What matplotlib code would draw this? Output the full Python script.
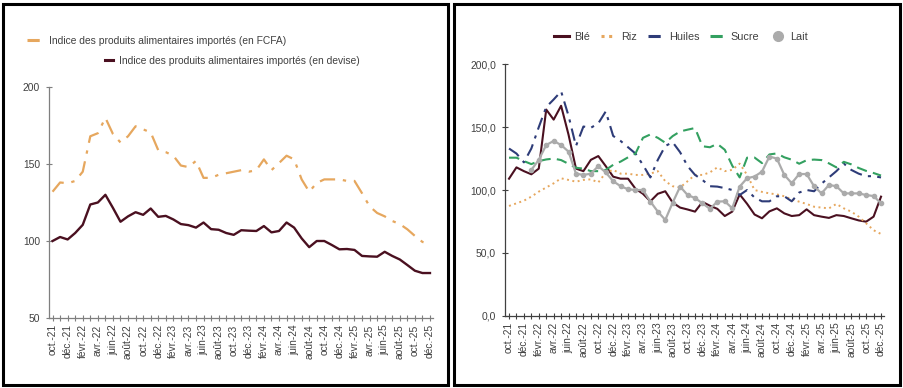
import matplotlib
matplotlib.use('Agg')
import matplotlib.pyplot as plt
from matplotlib.patches import Rectangle
from matplotlib.lines import Line2D
import numpy as np

plt.rcParams['font.family'] = ['Liberation Sans', 'DejaVu Sans']

# months oct-21 .. dec-25 (51 points), labels every 2 months
labels = ['oct.-21', 'déc.-21', 'févr.-22', 'avr.-22', 'juin-22', 'août-22', 'oct.-22', 'déc.-22',
          'févr.-23', 'avr.-23', 'juin-23', 'août-23', 'oct.-23', 'déc.-23', 'févr.-24', 'avr.-24',
          'juin-24', 'août-24', 'oct.-24', 'déc.-24', 'févr.-25', 'avr.-25', 'juin-25', 'août-25',
          'oct.-25', 'déc.-25']

# left chart
fcfa = [132, 138, 137.5, 139, 145, 168, 170, 180, 169.5, 164, 168, 174.5, 172.5, 170.5, 159, 157.7,
        155.4, 149, 148, 152, 141, 141, 143, 144, 145, 146, 145, 146, 153, 146, 150.6, 155.4, 153,
        140, 132, 137.7, 140, 140, 140, 139, 139, 131, 122.5, 118.2, 116, 113, 111, 107.6, 103.3,
        99.4, 98]
devise = [100, 102.6, 101, 105.2, 110.5, 123.7, 125, 130, 121.5, 112.5, 116, 118.7, 117, 121.1,
          115.7, 116.3, 114, 111, 110.3, 108.7, 112, 107.7, 107.3, 105.2, 104, 107, 106.7, 106.5,
          109.7, 105.6, 106.5, 112, 108.7, 101.7, 96, 100, 100, 97.4, 94.6, 94.8, 94.2, 90.3, 90,
          89.8, 93, 90.3, 88, 84.4, 80.7, 79.2, 79.2]

# right chart
ble = [109, 118, 115, 112.5, 117, 164, 156, 167, 144, 117, 115, 124, 127, 119, 110.6, 109, 109,
       101, 97, 91, 97, 99, 90, 86, 84.5, 82.8, 90.5, 87.5, 85, 79.3, 82.8, 96.5, 89, 80.5, 77.5,
       83, 85.4, 81.4, 79.3, 80, 84.6, 80, 78.8, 77.8, 80, 79.3, 77.5, 75.8, 74.8, 78.8, 94.7]
riz = [87.3, 89.4, 91.5, 94.7, 98.7, 102, 105.3, 109.3, 108, 106.6, 108, 108.5, 106, 113.8, 116,
       113, 113, 112, 112, 113, 115, 107, 103, 102, 107, 112, 112, 114, 118, 115, 116, 121, 112,
       100, 98.5, 97.3, 96.5, 95, 92.6, 90.7, 88.9, 86.7, 86, 85.4, 88.9, 85.4, 82.8, 78.8, 73.5,
       68, 65]
huiles = [133, 129, 122, 133, 150, 166, 172, 178.5, 159, 135, 150.5, 149.5, 153, 162.5, 143, 139,
          134, 129, 120, 110, 124, 135, 138, 130, 119, 112, 108, 103, 102.7, 101.5, 100, 96, 100,
          94, 91, 91, 95, 95, 91, 98, 100, 99, 105, 110, 115, 121, 116, 113, 111, 111, 110]
sucre = [125.7, 125.7, 123, 120.6, 123, 124.3, 125, 123.8, 120.8, 117.7, 117, 115, 115, 116,
         120, 122.6, 126, 129, 141.5, 144.2, 141.5, 137.6, 142.9, 146.6, 148, 149.3, 134.8, 134,
         136.7, 132, 119.4, 110, 125.7, 125.8, 121.4, 128.3, 129.1, 126, 124.1, 120.9, 123.7,
         124.2, 123.8, 121.2, 118, 122.4, 120.4, 117.5, 115.2, 113.5, 111.5]
lait = [np.nan, np.nan, np.nan, 116, 124, 135.8, 139, 135.8, 130.5, 113, 112, 113, 119, 114,
        107, 103, 100.6, 100, 100, 90.8, 82.8, 76.2, 90, 102.7, 96, 93.6, 89.4, 85, 90.8, 91,
        85.5, 102.7, 109.4, 110.7, 114.6, 126.6, 125, 112, 105.4, 112.7, 112.7, 103, 97.3, 104,
        103, 97.3, 97.3, 97.3, 96, 95.2, 89.4]

x = np.arange(len(devise))
W, H = 904, 388
fs = 7.4
fig = plt.figure(figsize=(W / 100, H / 100), dpi=100)

# panel borders
fig.add_artist(Rectangle((3.5 / W, 3.5 / H), 445 / W, 381 / H, transform=fig.transFigure,
                         fill=False, ec='black', lw=2.2))
fig.add_artist(Rectangle((453.5 / W, 3.5 / H), 447 / W, 381 / H, transform=fig.transFigure,
                         fill=False, ec='black', lw=2.2))

# ---------- left panel ----------
ax1 = fig.add_axes([49 / W, (H - 318) / H, 384 / W, 231 / H])
ax1.plot(x, fcfa, color='#E6A75E', lw=1.6, linestyle=(0, (7, 3.5, 1.5, 3.5)))
ax1.plot(x, devise, color='#4A1020', lw=1.7)
ax1.set_xlim(-0.47, 50.4)
ax1.set_ylim(50, 200)
ax1.set_yticks([50, 100, 150, 200])
ax1.set_xticks(x)
ax1.set_xticklabels([labels[i // 2] if i % 2 == 0 else '' for i in x], rotation=90)
ax1.tick_params(axis='x', direction='inout', length=5, width=0.8, color='#7F7F7F',
                labelsize=fs, pad=2, labelcolor='#404040')
ax1.tick_params(axis='y', direction='inout', length=5, width=0.8, color='#7F7F7F',
                labelsize=fs, pad=4, labelcolor='#404040')
for s in ['top', 'right']:
    ax1.spines[s].set_visible(False)
for s in ['left', 'bottom']:
    ax1.spines[s].set_color('#7F7F7F')
    ax1.spines[s].set_linewidth(0.9)

h1 = Line2D([], [], color='#E6A75E', lw=2.2, linestyle=(0, (4, 2, 1.5, 2)))
h2 = Line2D([], [], color='#4A1020', lw=2.2)
fig.legend([h1], ['Indice des produits alimentaires importés (en FCFA)'], loc='center left',
           bbox_to_anchor=(27 / W, 1 - 40.7 / H), frameon=False, fontsize=fs,
           handlelength=1.6, handletextpad=0.5, borderpad=0, borderaxespad=0,
           labelcolor='#404040')
fig.legend([h2], ['Indice des produits alimentaires importés (en devise)'], loc='center left',
           bbox_to_anchor=(105 / W, 1 - 61 / H), frameon=False, fontsize=fs,
           handlelength=0.8, handletextpad=0.6, borderpad=0, borderaxespad=0,
           labelcolor='#404040')

# ---------- right panel ----------
ax2 = fig.add_axes([505 / W, (H - 315.7) / H, 379 / W, 251.4 / H])
ax2.plot(x, ble, color='#4A1020', lw=1.5)
ax2.plot(x, riz, color='#E6A75E', lw=1.4, linestyle=(0, (1, 1.8)))
ax2.plot(x, huiles, color='#2E3C78', lw=1.5, linestyle=(0, (6, 3, 1.5, 3)))
ax2.plot(x, sucre, color='#33A060', lw=1.5, linestyle=(0, (5, 3)))
ax2.plot(x, lait, color='#ABABAB', lw=1.6, marker='o', markersize=3.0)
ax2.set_xlim(-0.54, 50.4)
ax2.set_ylim(0, 200)
ax2.set_yticks([0, 50, 100, 150, 200])
ax2.set_yticklabels(['0,0', '50,0', '100,0', '150,0', '200,0'])
ax2.set_xticks(x)
ax2.set_xticklabels([labels[i // 2] if i % 2 == 0 else '' for i in x], rotation=90)
ax2.tick_params(axis='x', direction='inout', length=5, width=0.8, color='#404040',
                labelsize=fs, pad=2, labelcolor='#404040')
ax2.tick_params(axis='y', direction='inout', length=5, width=0.8, color='#404040',
                labelsize=fs, pad=4, labelcolor='#404040')
for s in ['top', 'right']:
    ax2.spines[s].set_visible(False)
for s in ['left', 'bottom']:
    ax2.spines[s].set_color('#404040')
    ax2.spines[s].set_linewidth(0.9)

hb = Line2D([], [], color='#4A1020', lw=2.2)
hr = Line2D([], [], color='#E6A75E', lw=2.2, linestyle=(0, (1, 1.5)))
hh = Line2D([], [], color='#2E3C78', lw=2.2, linestyle=(0, (4, 2, 1.5, 2)))
hs = Line2D([], [], color='#33A060', lw=2.2, linestyle=(0, (4, 2)))
hl = Line2D([], [], color='#ABABAB', lw=0, marker='o', markersize=7)
fig.legend([hb, hr, hh, hs, hl], ['Blé', 'Riz', 'Huiles', 'Sucre', 'Lait'], loc='center',
           bbox_to_anchor=(681 / W, 1 - 37 / H), ncol=5, frameon=False, fontsize=fs + 0.4,
           handlelength=1.4, handletextpad=0.5, columnspacing=1.0, borderpad=0,
           borderaxespad=0, labelcolor='#404040')

fig.savefig('out.png', dpi=100)
